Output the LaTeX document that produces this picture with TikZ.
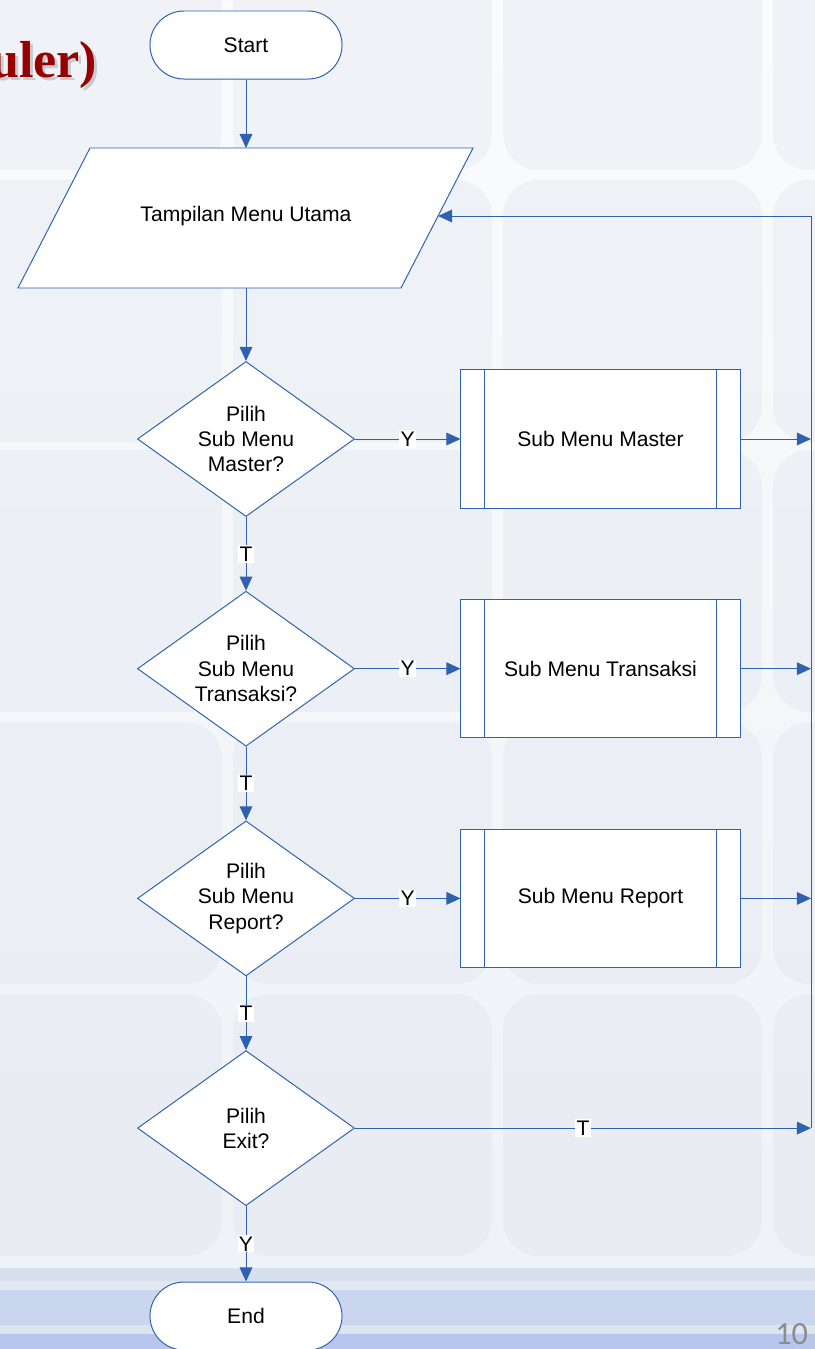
\documentclass[tikz,border=0pt]{standalone}
\usepackage{fontspec}
\setmainfont{Liberation Sans}
\newfontfamily\titlefont{Liberation Serif}
\newfontfamily\numfont{Carlito}
\usetikzlibrary{shapes.geometric,arrows.meta}

\definecolor{flowblue}{HTML}{2F62AE}
\definecolor{titlered}{HTML}{960000}
\definecolor{bgtop}{HTML}{FAFBFC}
\definecolor{bgbot}{HTML}{EEF1F6}
\definecolor{tilecol}{HTML}{DEE4EE}
\definecolor{bandA}{HTML}{D8E0F0}
\definecolor{bandB}{HTML}{E1E8F2}
\definecolor{bandC}{HTML}{CAD6EE}
\definecolor{bandD}{HTML}{DCE5EE}
\definecolor{bandE}{HTML}{B6C6EC}

\tikzset{
	line/.style={draw=flowblue, line width=0.7pt},
	flow/.style={line, -{Triangle[length=10pt,width=9pt]}},
	term/.style={line, fill=white, rectangle, rounded corners=0.85cm, minimum width=4.8cm, minimum height=1.7cm},
	decision/.style={line, fill=white, diamond, aspect=1.4, minimum width=5.425cm, minimum height=3.875cm, inner sep=0pt, align=center},
	subproc/.style={line, fill=white, rectangle, minimum width=6.975cm, minimum height=3.45cm,
		path picture={\draw[line] ([xshift=0.6cm]path picture bounding box.north west) -- ([xshift=0.6cm]path picture bounding box.south west)
			([xshift=-0.6cm]path picture bounding box.north east) -- ([xshift=-0.6cm]path picture bounding box.south east);}},
	yt/.style={fill=white, inner sep=1pt}
}

\begin{document}
\begin{tikzpicture}[x=0.025cm, y=-0.025cm, every node/.style={font=\fontsize{15}{18}\selectfont}]
	\pgfmathsetmacro{\cx}{246}		%column of the flow
	\pgfmathsetmacro{\bx}{600.5}	%column of the sub menus
	\pgfmathsetmacro{\lx}{811}		%return line
	\pgfmathsetmacro{\step}{229.7}	%distance between decisions
	\pgfmathsetmacro{\slant}{72}	%offset of the input shape
	%calculated
	\pgfmathsetmacro{\inx}{473-\slant*68/140}	%where the return line meets the input shape

	\useasboundingbox (0,0) rectangle (815,1349);
	\clip (0,0) rectangle (815,1349);

	%background
	\fill[top color=bgtop, bottom color=bgbot] (0,0) rectangle (815,1349);
	\foreach \tx in {-37,233,503,773}
		\foreach \ty in {-92,180,450,722,994}
			\fill[tilecol, opacity=0.35, rounded corners=0.9cm] (\tx,\ty) rectangle ++(259,262);
	\fill[bandA] (0,1268) rectangle (815,1281);
	\fill[bandB] (0,1281) rectangle (815,1290);
	\fill[bandC] (0,1290) rectangle (815,1325);
	\fill[bandD] (0,1325) rectangle (815,1334);
	\fill[bandE] (0,1334) rectangle (815,1349);

	%title and page number
	\node[anchor=base east, text=black!50, opacity=0.35, font=\titlefont\bfseries\fontsize{37}{42}\selectfont] at (105,80) {uler)};
	\node[anchor=base east, text=titlered, font=\titlefont\bfseries\fontsize{37}{42}\selectfont] (title) at (102,77) {uler)};
	\node[anchor=base east, text=black!45, font=\numfont\fontsize{23}{26}\selectfont] (page) at (813,1344) {10};

	%input shape
	\draw[line, fill=white] (18+\slant,148) -- (473,148) -- (473-\slant,288) -- (18,288) -- cycle;
	\coordinate (menutop) at (\cx,148);
	\coordinate (menubot) at (\cx,288);
	\coordinate (menuin) at (\inx,216);

	%nodes
	\node[term] (start) at (\cx,45) {Start};
	\node (menu) at (\cx,216) {Tampilan Menu Utama};
	\node[decision] (master) at (\cx,439) {Pilih\\Sub Menu\\Master?};
	\node[decision] (trans) at (\cx,439+\step) {Pilih\\Sub Menu\\Transaksi?};
	\node[decision] (report) at (\cx,439+2*\step) {Pilih\\Sub Menu\\Report?};
	\node[decision] (exit) at (\cx,439+3*\step) {Pilih\\Exit?};
	\node[term] (end) at (\cx,1316) {End};
	\node[subproc] (smaster) at (\bx,439) {Sub Menu Master};
	\node[subproc] (strans) at (\bx,439+\step) {Sub Menu Transaksi};
	\node[subproc] (sreport) at (\bx,439+2*\step) {Sub Menu Report};
	\coordinate (back) at (\lx,439+3*\step);

	%connections
	\draw[flow] (start.south) -- (menutop);
	\draw[flow] (menubot) -- (master.north);
	\draw[flow] (master.south) -- node[yt] {T} (trans.north);
	\draw[flow] (trans.south) -- node[yt] {T} (report.north);
	\draw[flow] (report.south) -- node[yt] {T} (exit.north);
	\draw[flow] (exit.south) -- node[yt] {Y} (end.north);
	\draw[flow] (master.east) -- node[yt] {Y} (smaster.west);
	\draw[flow] (trans.east) -- node[yt] {Y} (strans.west);
	\draw[flow] (report.east) -- node[yt] {Y} (sreport.west);
	\draw[flow] (smaster.east) -- (smaster.east -| back);
	\draw[flow] (strans.east) -- (strans.east -| back);
	\draw[flow] (sreport.east) -- (sreport.east -| back);
	\draw[flow] (exit.east) -- node[yt] {T} (back);
	\draw[flow] (back) -- (back |- menuin) -- (menuin);
\end{tikzpicture}
\end{document}
